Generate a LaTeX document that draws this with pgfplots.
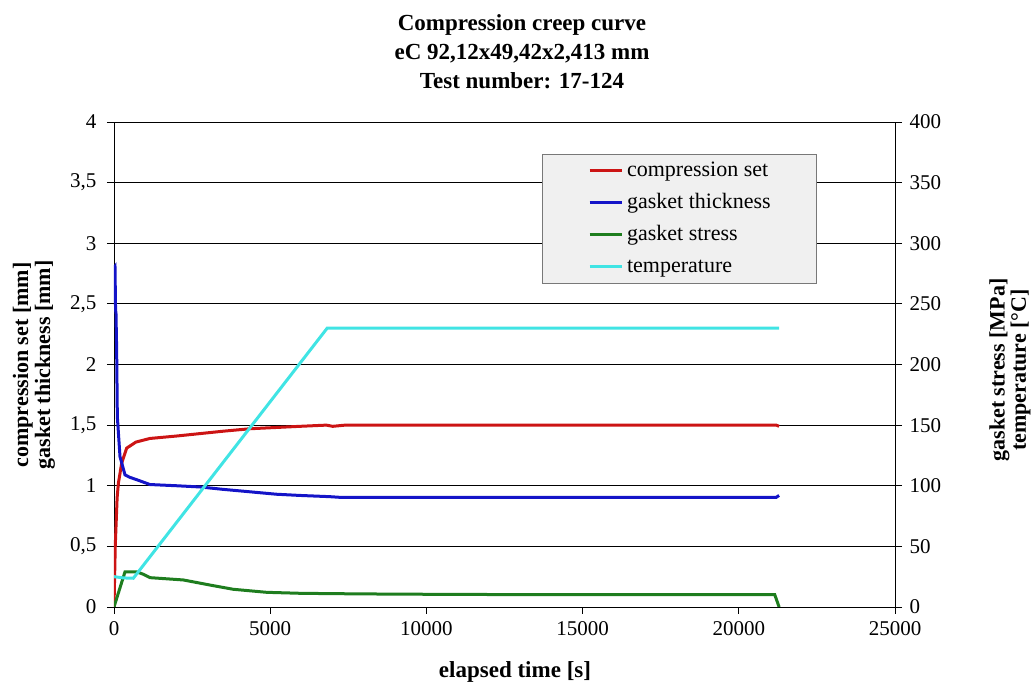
\documentclass[border=0pt]{standalone}
\usepackage{pgfplots}
\pgfplotsset{compat=1.18}
\usepackage{fontspec}
\setmainfont{Liberation Serif}
\definecolor{cred}{RGB}{204,20,20}
\definecolor{cblue}{RGB}{20,20,200}
\definecolor{cgreen}{RGB}{30,125,30}
\definecolor{ccyan}{RGB}{64,228,228}
\definecolor{legfill}{RGB}{240,240,240}
\definecolor{legdraw}{RGB}{120,120,120}
\begin{document}
\begin{tikzpicture}
\useasboundingbox (0,0) rectangle (1033pt,687pt);
\pgfplotsset{
  myaxis/.style={
    at={(114pt,80pt)}, anchor=south west, scale only axis,
    width=781pt, height=485pt,
    xmin=0, xmax=25000, xtick={0,5000,10000,15000,20000,25000},
    scaled x ticks=false, scaled y ticks=false,
    /pgf/number format/.cd, use comma, 1000 sep={}, assume math mode=true,
    /pgfplots/.cd,
    tick label style={font=\fontsize{21}{25}\selectfont},
    tick style={black, line width=0.8pt},
    major tick length=7pt, tick align=outside,
    axis line style={black, line width=0.8pt},
  }
}
\begin{axis}[myaxis,
  ymin=0, ymax=4, ytick={0,0.5,1,1.5,2,2.5,3,3.5,4},
  xtick pos=bottom, ytick pos=left,
  ymajorgrids, grid style={black, line width=0.8pt},
  yticklabel style={xshift=-7pt},
  xticklabel style={inner ysep=1pt, yshift=-6pt},
]
% compression set [mm]
\addplot[cred, line width=3pt] coordinates {
(0,0) (40,0.5) (100,0.9) (140,1.02) (245,1.185) (405,1.31) (700,1.36)
(1150,1.39) (2000,1.41) (2750,1.43) (3500,1.45) (4350,1.47) (5950,1.49)
(6800,1.5) (7000,1.49) (7400,1.5) (10000,1.5) (15000,1.5) (21200,1.5) (21290,1.49)};
% gasket thickness [mm]
\addplot[cblue, line width=3pt] coordinates {
(0,2.8) (32,2.81) (50,2.45) (64,2.42) (85,2.12) (107,1.57) (192,1.24)
(352,1.09) (500,1.07) (726,1.05) (1152,1.01) (2000,1.0) (2753,0.99)
(3500,0.97) (4353,0.95) (5200,0.93) (5954,0.92) (6900,0.91) (7200,0.905)
(10000,0.905) (15000,0.905) (21200,0.905) (21290,0.92)};
\end{axis}
\begin{axis}[myaxis,
  ymin=0, ymax=400, ytick={0,50,100,150,200,250,300,350,400},
  axis y line*=right, hide x axis,
  yticklabel style={xshift=4pt, inner ysep=0pt},
  legend style={at={(axis description cs:0.5476,0.934)}, anchor=north west,
    fill=legfill, draw=legdraw, line width=0.8pt,
    font=\fontsize{22}{26}\selectfont,
    inner xsep=46pt, inner ysep=6pt, row sep=11pt,
    nodes={inner sep=0pt, text height=16pt, text depth=5pt},
    /tikz/every odd column/.append style={column sep=4pt}},
  legend cell align=left,
  legend image code/.code={\draw[#1, line width=3pt] (0pt,0pt) -- (32pt,0pt);},
]
\addlegendimage{cred, line width=3pt}
\addlegendentry{compression set}
\addlegendimage{cblue, line width=3pt}
\addlegendentry{gasket thickness}
% gasket stress [MPa]
\addplot[cgreen, line width=3pt] coordinates {
(0,0) (352,29) (726,29) (938,27) (1152,24.2) (2218,22.3) (3073,18.1)
(3819,14.6) (4886,12.1) (5954,11.3) (7000,11) (9000,10.6) (12000,10.3)
(21150,10.2) (21290,0)};
\addlegendentry{gasket stress}
% temperature [C]
\addplot[ccyan, line width=3pt] coordinates {
(0,25) (300,24) (618,23.7) (6825,230) (21290,230)};
\addlegendentry{temperature}
\end{axis}
\node[anchor=base, font=\bfseries\fontsize{23}{28}\selectfont] at (522pt,656pt) {Compression creep curve};
\node[anchor=base, font=\bfseries\fontsize{23}{28}\selectfont] at (522pt,627pt) {eC 92,12x49,42x2,413 mm};
\node[anchor=base, font=\bfseries\fontsize{23}{28}\selectfont] at (522pt,598pt) {Test number: 17-124};
\node[anchor=base, font=\bfseries\fontsize{23}{28}\selectfont] at (515pt,9pt) {elapsed time [s]};
\node[rotate=90, align=center, font=\bfseries\fontsize{22}{22}\selectfont] at (34pt,322pt) {compression set [mm]\\gasket thickness [mm]};
\node[rotate=90, align=center, font=\bfseries\fontsize{22}{20}\selectfont] at (1010pt,317pt) {gasket stress [MPa]\\temperature [°C]};
\end{tikzpicture}
\end{document}
